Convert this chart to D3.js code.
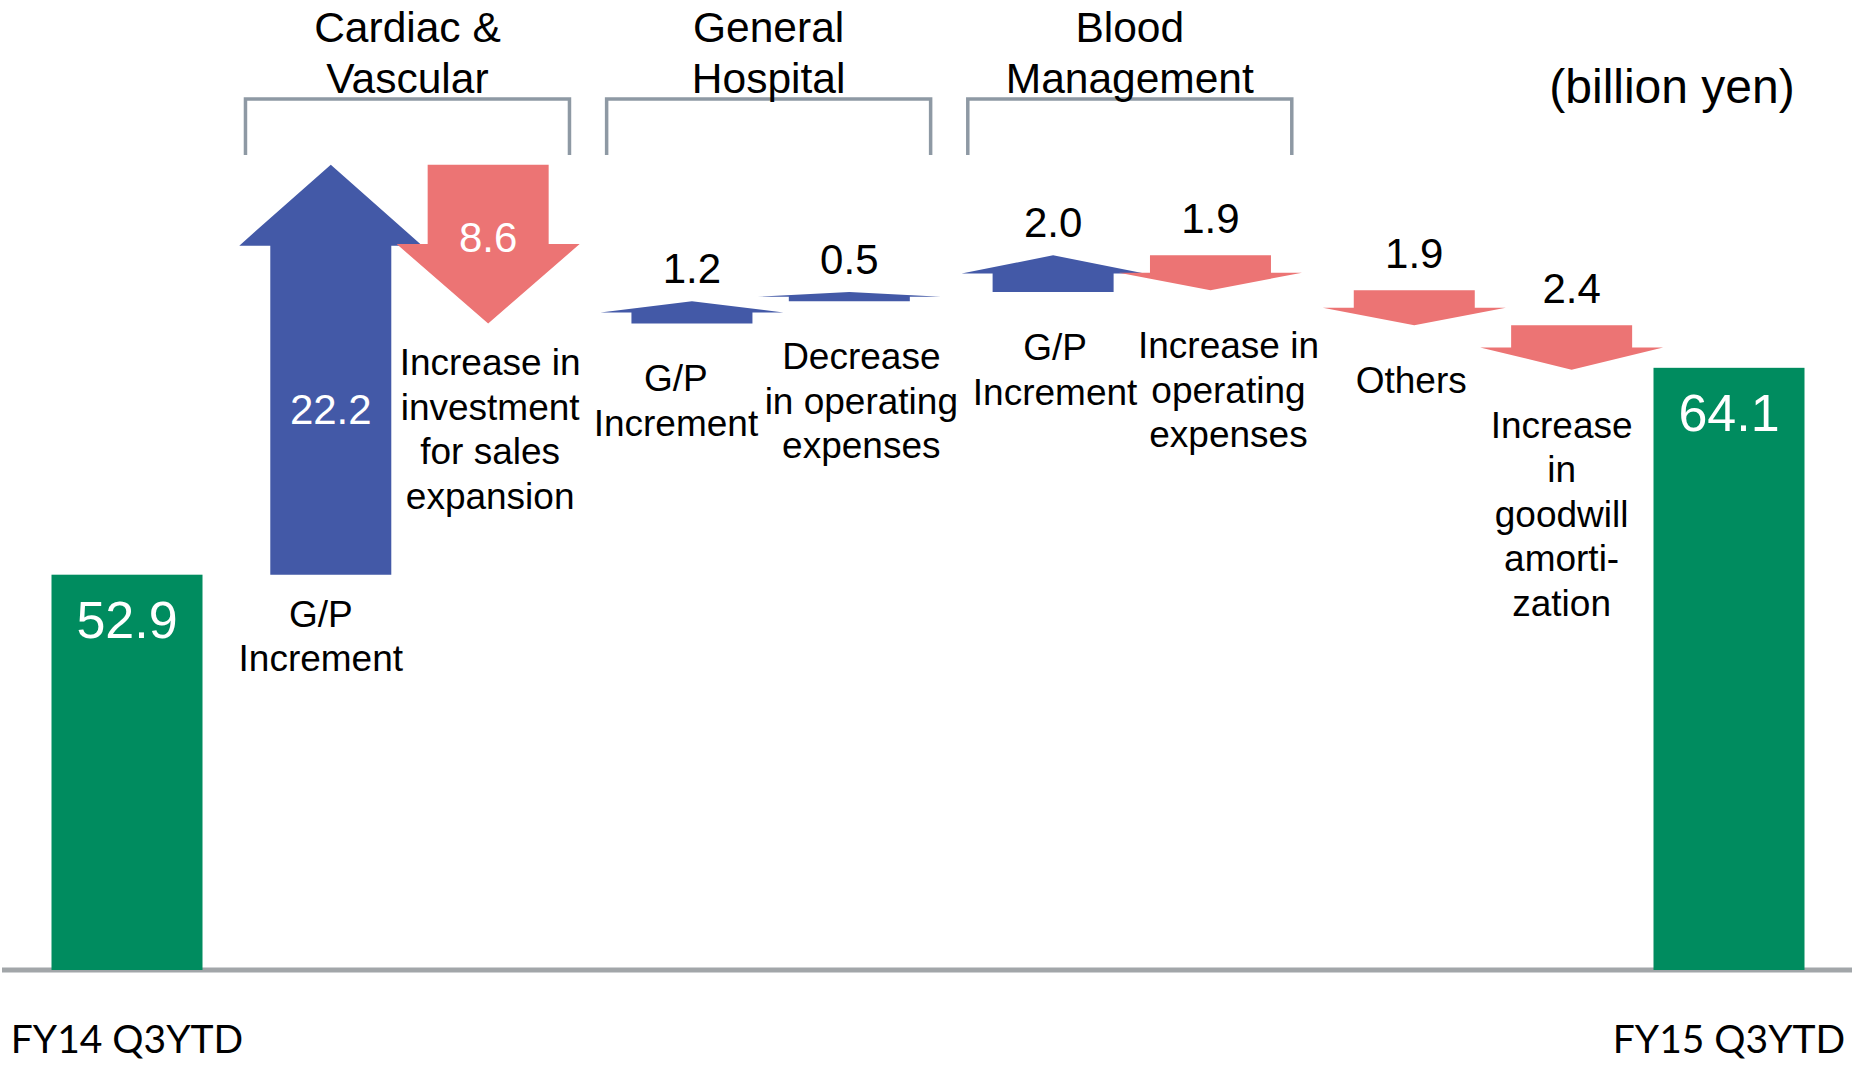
<!DOCTYPE html>
<html>
<head>
<meta charset="utf-8">
<script src="https://cdn.jsdelivr.net/npm/d3@7"></script>
<style>
  body { margin: 0; background: #fff; }
  svg { display: block; }
</style>
</head>
<body>
<script>
// values (billion yen)
const steps = ['FY14', 'C&V G/P', 'C&V invest', 'GH G/P', 'GH opex', 'BM G/P', 'BM opex', 'Others', 'Goodwill', 'FY15']
const kinds = ['total', 'up', 'down', 'up', 'up', 'up', 'down', 'down', 'down', 'total']
const values = [52.9, 22.2, 8.6, 1.2, 0.5, 2.0, 1.9, 1.9, 2.4, 64.1]
const labelLines = [
  ['FY14 Q3YTD'],
  ['G/P', 'Increment'],
  ['Increase in', 'investment', 'for sales', 'expansion'],
  ['G/P', 'Increment'],
  ['Decrease', 'in operating', 'expenses'],
  ['G/P', 'Increment'],
  ['Increase in', 'operating', 'expenses'],
  ['Others'],
  ['Increase', 'in', 'goodwill', 'amorti-', 'zation'],
  ['FY15 Q3YTD']
]
const segmentOf = ['', 'Cardiac & Vascular', 'Cardiac & Vascular', 'General Hospital', 'General Hospital',
  'Blood Management', 'Blood Management', '', '', '']
const segmentNames = ['Cardiac & Vascular', 'General Hospital', 'Blood Management']
const segmentLines = [['Cardiac &', 'Vascular'], ['General', 'Hospital'], ['Blood', 'Management']]
const unitText = '(billion yen)'

const w = 1852
const h = 1066
const baseY = 970
const fontMain = '"Liberation Sans", Arial, sans-serif'
const fontFY = 'Lato, "Liberation Sans", sans-serif'
const blue = '#4359a7'
const red = '#ec7474'
const green = '#008c5f'

const svg = d3.select('body')
  .append('svg')
  .attr('width', w)
  .attr('height', h)

// slot index with a little extra room between segments
const slotGap = 0.295
let grp = 0
const slots = steps.map((s, i) => {
  if (i > 0 && segmentOf[i] !== segmentOf[i - 1]) grp++
  return i + grp * slotGap
})
const x = d3.scaleLinear()
  .domain([0, d3.max(slots)])
  .range([127, 1729])

// vertical axis is broken at the baseline
const y = d3.scaleLinear()
  .domain([31.5, 76])
  .range([baseY, 148])

// running level for the waterfall
let level = values[0]
const items = steps.map((s, i) => {
  const cx = x(slots[i])
  if (kinds[i] === 'total') {
    return { i, kind: 'total', cx, v: values[i], from: values[i], to: values[i] }
  }
  const from = level
  level = kinds[i] === 'up' ? level + values[i] : level - values[i]
  return { i, kind: kinds[i], cx, v: values[i], from, to: level }
})

const fmt = d3.format('.1f')
const shaftW = 121
const headW = 183
const barW = 151

// baseline
svg.append('line')
  .attr('x1', 2)
  .attr('x2', w)
  .attr('y1', baseY)
  .attr('y2', baseY)
  .style('stroke', '#a2a6a9')
  .style('stroke-width', 5)

// total bars
const totals = items.filter(d => d.kind === 'total')
svg.selectAll('rect.total')
  .data(totals)
  .enter()
  .append('rect')
  .attr('class', 'total')
  .attr('x', d => d.cx - barW / 2)
  .attr('y', d => y(d.v))
  .attr('width', barW)
  .attr('height', d => baseY - y(d.v))
  .style('fill', green)

svg.selectAll('text.totalVal')
  .data(totals)
  .enter()
  .append('text')
  .attr('class', 'totalVal')
  .attr('x', d => d.cx)
  .attr('y', d => y(d.v) + 63)
  .attr('text-anchor', 'middle')
  .style('font-family', fontMain)
  .style('font-size', '52px')
  .style('fill', '#fff')
  .text(d => fmt(d.v))

svg.selectAll('text.fy')
  .data(totals)
  .enter()
  .append('text')
  .attr('class', 'fy')
  .attr('x', d => d.cx)
  .attr('y', 1053)
  .attr('text-anchor', 'middle')
  .style('font-family', fontFY)
  .style('font-size', '39px')
  .style('fill', '#000')
  .text(d => labelLines[d.i][0])

// arrows
const arrows = items.filter(d => d.kind !== 'total')

function arrowPath(d) {
  const y0 = y(d.from)
  const y1 = y(d.to)
  const len = Math.abs(y1 - y0)
  const hh = Math.min(len / 2, 81)
  const s = shaftW / 2
  const hw = headW / 2
  const c = d.cx
  const dir = d.kind === 'up' ? -1 : 1
  const yb = y1 - dir * hh
  return d3.line()([
    [c - s, y0], [c - s, yb], [c - hw, yb], [c, y1],
    [c + hw, yb], [c + s, yb], [c + s, y0]
  ]) + 'Z'
}

svg.selectAll('path.arrow')
  .data(arrows)
  .enter()
  .append('path')
  .attr('class', 'arrow')
  .attr('d', arrowPath)
  .style('fill', d => d.kind === 'up' ? blue : red)

// value labels: inside big arrows, above small ones
const isBig = d => d.v > 5
svg.selectAll('text.val')
  .data(arrows)
  .enter()
  .append('text')
  .attr('class', 'val')
  .attr('x', d => d.cx)
  .attr('y', d => {
    const top = Math.min(y(d.from), y(d.to))
    const bot = Math.max(y(d.from), y(d.to))
    if (isBig(d)) {
      return d.kind === 'up' ? (top + 81 + bot) / 2 + 14 : (top + bot) / 2 + 8
    }
    return d.kind === 'up' ? top - 18 : top - 22
  })
  .attr('text-anchor', 'middle')
  .style('font-family', fontMain)
  .style('font-size', '42px')
  .style('fill', d => isBig(d) ? '#fff' : '#000')
  .text(d => fmt(d.v))

// category labels under each arrow
const labelDx = [0, -10, 2, -16, 12, 2, 18, -3, -10, 0]
arrows.forEach(d => {
  const bot = Math.max(y(d.from), y(d.to))
  const y0 = bot + (isBig(d) ? 52 : 68)
  const t = svg.append('text')
    .attr('text-anchor', 'middle')
    .style('font-family', fontMain)
    .style('font-size', '37px')
    .style('fill', '#000')
  labelLines[d.i].forEach((line, k) => {
    t.append('tspan')
      .attr('x', d.cx + labelDx[d.i])
      .attr('y', y0 + k * 44.5)
      .text(line)
  })
})

// segment brackets and titles
segmentNames.forEach((name, gi) => {
  const members = items.filter(d => segmentOf[d.i] === name)
  const mid = d3.mean(members, d => d.cx) - 2
  svg.append('path')
    .attr('d', `M${mid - 162},155 V99 H${mid + 162} V155`)
    .style('fill', 'none')
    .style('stroke', '#8e99a4')
    .style('stroke-width', 3.5)
  const t = svg.append('text')
    .attr('text-anchor', 'middle')
    .style('font-family', fontMain)
    .style('font-size', '42.5px')
    .style('fill', '#000')
  segmentLines[gi].forEach((line, k) => {
    t.append('tspan')
      .attr('x', mid)
      .attr('y', 42 + k * 51)
      .text(line)
  })
})

svg.append('text')
  .attr('x', 1672)
  .attr('y', 103)
  .attr('text-anchor', 'middle')
  .style('font-family', fontMain)
  .style('font-size', '48px')
  .style('fill', '#000')
  .text(unitText)
</script>
</body>
</html>
